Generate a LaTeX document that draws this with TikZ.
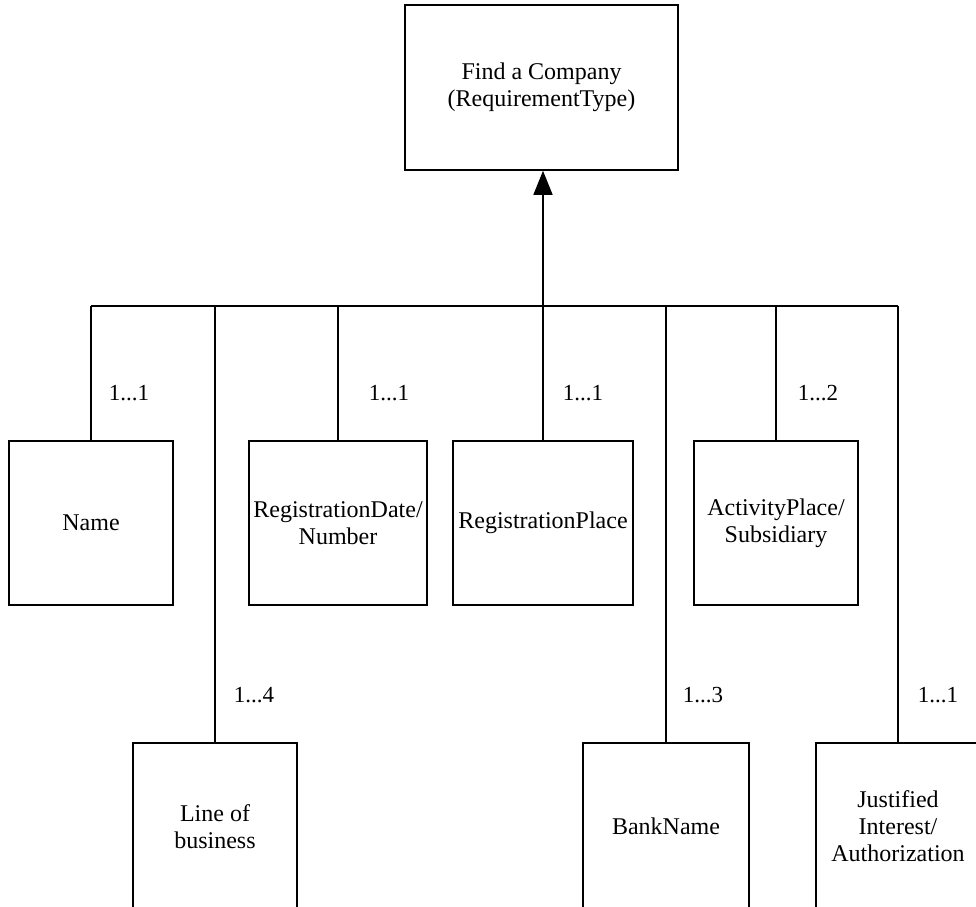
\documentclass[tikz,border=0pt]{standalone}
\usepackage{fontspec}
\setmainfont{Liberation Serif}
\usetikzlibrary{arrows.meta}
\begin{document}
\begin{tikzpicture}[x=1pt,y=-1pt,
  line width=1.6pt,
  every node/.style={font=\fontsize{24}{27}\selectfont},
  entity/.style={draw, rectangle, inner sep=1pt, align=center,
                 minimum width=164pt, minimum height=164pt},
  lower/.style={entity, minimum height=167pt},
  mult/.style={anchor=west, inner sep=0pt, font=\fontsize{23}{27}\selectfont},
  link/.style={line width=1.6pt}]
\useasboundingbox (0,0) rectangle (976,906);

% requirement type at the top
\node[entity, minimum width=273pt, minimum height=165pt] (top) at (541.5,87.5)
  {Find a Company\\(RequirementType)};

% first row of elements
\node[entity] (name) at (91,523) {Name};
\node[entity, minimum width=178pt] (regdate) at (338,523) {RegistrationDate/\\Number};
\node[entity, minimum width=180pt] (regplace) at (543,523) {RegistrationPlace};
\node[entity] (activity) at (776,523) {ActivityPlace/\\Subsidiary};

% second row of elements, running off the lower edge
\node[lower] (lob) at (215,826.5) {Line of\\business};
\node[lower, minimum width=166pt] (bank) at (666,826.5) {BankName};
\node[lower] (just) at (898,826.5) {Justified\\Interest/\\Authorization};

% common bus
\coordinate (hub) at (543,306);
\draw[link] (name.north |- hub) -- (just.north |- hub);
\draw[link, -{Triangle[width=19pt,length=24pt]}] (hub) -- (hub |- top.south);

% branches
\foreach \n in {name,regdate,regplace,activity,lob,bank,just}
  \draw[link] (\n.north) -- (\n.north |- hub);

% multiplicities
\node[mult] (m1) at (108,393) {1...1};
\node[mult] (m2) at (368,393) {1...1};
\node[mult] (m3) at (562,393) {1...1};
\node[mult] (m4) at (797,393) {1...2};
\node[mult] (m5) at (233,695) {1...4};
\node[mult] (m6) at (682,695) {1...3};
\node[mult] (m7) at (917,695) {1...1};
\end{tikzpicture}
\end{document}
